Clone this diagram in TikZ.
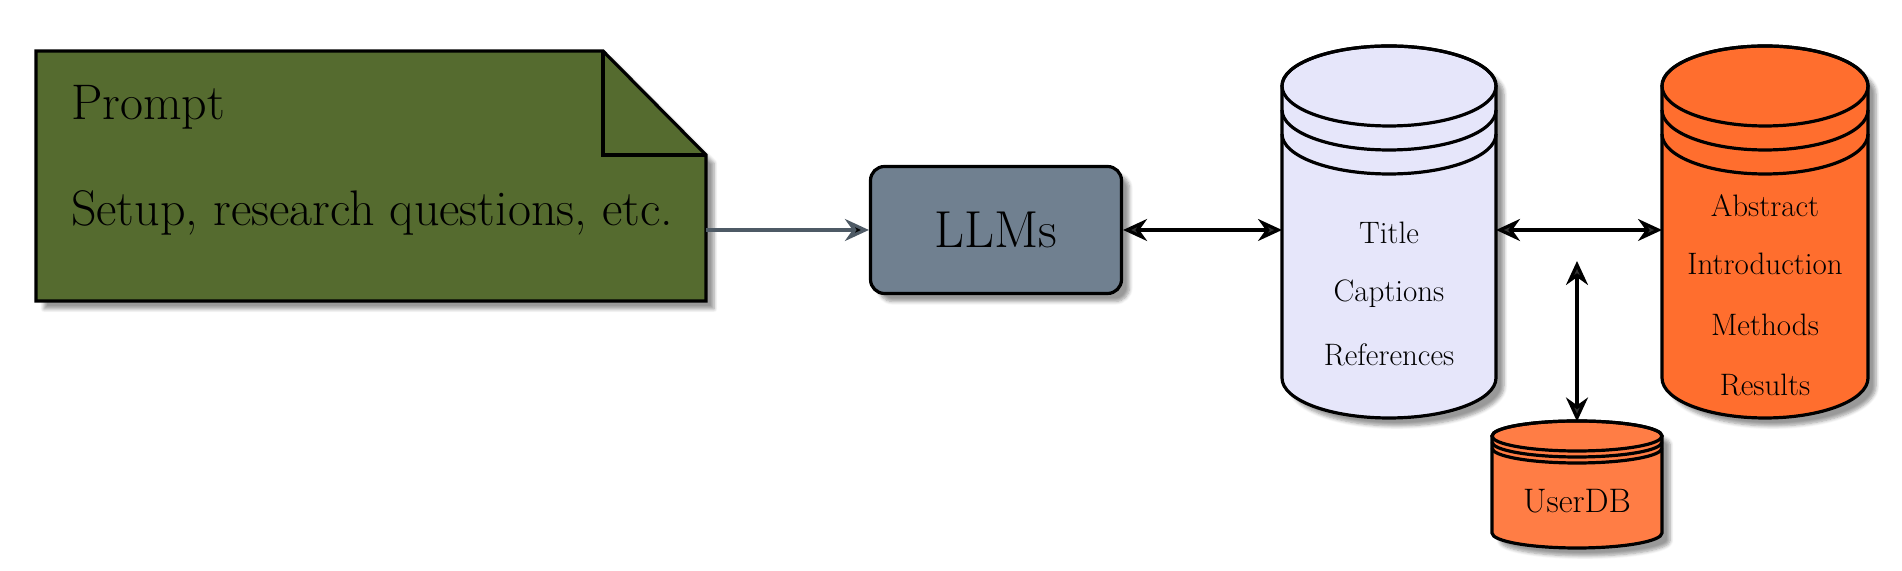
\documentclass[tikz,border=0pt]{standalone}
\usetikzlibrary{shadows.blur,arrows.meta}
\definecolor{noteg}{HTML}{556B2F}
\definecolor{slate}{HTML}{708090}
\definecolor{lav}{HTML}{E6E6FA}
\definecolor{org}{HTML}{FF6E2E}
\definecolor{org2}{HTML}{FF7D45}
\newcommand\mycyl[7]{% x1 x2 ytop ybot ry spacing fill
 \pgfmathsetmacro\rx{(#2-#1)/2}\pgfmathsetmacro\cx{(#1+#2)/2}
 \pgfmathsetmacro\yt{#3-#5}\pgfmathsetmacro\yb{#4+#5}
 \path[fill=#7,draw=black,line width=1.6pt,sh] (#1,\yt) -- (#1,\yb) arc[start angle=180,end angle=360,x radius=\rx,y radius=#5] -- (#2,\yt) arc[start angle=0,end angle=180,x radius=\rx,y radius=#5] -- cycle;
 \draw[line width=1.6pt] (\cx,\yt) ellipse[x radius=\rx,y radius=#5];
 \foreach \k in {1,2}{\draw[line width=1.6pt] (#1,\yt-\k*#6) arc[start angle=180,end angle=360,x radius=\rx,y radius=#5];}
}
\tikzset{x=0.5pt,y=0.5pt,
 sh/.style={blur shadow={shadow xshift=4pt,shadow yshift=-4pt,shadow blur steps=6,shadow opacity=40}},
 arr/.style={line width=1.6pt,{Stealth[length=12pt,width=11pt]}-{Stealth[length=12pt,width=11pt]}},
 box/.style={inner sep=0pt,outer sep=0pt},
 ctext/.style={font=\fontsize{15.5}{15.5}\selectfont,align=center}}
\begin{document}
\begin{tikzpicture}
\useasboundingbox (0,0) rectangle (1902,571);
% note
\path[fill=noteg,draw=black,line width=1.6pt,sh] (36,520) -- (603,520) -- (706,416) -- (706,270) -- (36,270) -- cycle;
\draw[line width=1.6pt] (603,520) -- (603,416) -- (706,416);
\node[box,minimum width=335pt,minimum height=125pt] (note) at (371,395) {};
\node[anchor=west,font=\fontsize{25}{25}\selectfont] (t1) at (64,464) {Prompt};
\node[anchor=west,font=\fontsize{25}{25}\selectfont] (t2) at (64,358) {Setup, research questions, etc.};
% LLMs
\node[draw=black,fill=slate,line width=1.6pt,rounded corners=7pt,minimum width=125.5pt,minimum height=63.5pt,sh,font=\fontsize{26}{26}\selectfont] (llm) at (996,341) {LLMs};
% cylinders
\mycyl{1282}{1496}{525}{153}{40}{24}{lav}
\mycyl{1662}{1868}{525}{153}{40}{24}{org}
\mycyl{1492}{1662}{150}{23}{15}{6}{org2}
\node[box,minimum width=107pt,minimum height=186pt] (title) at (1389,339) {};
\node[box,minimum width=103pt,minimum height=186pt] (paper) at (1765,339) {};
\node[box,minimum width=85pt,minimum height=63.5pt] (user) at (1577,86) {};
\node[ctext] (tt) at (1389,338) {Title};
\node[ctext] (tc) at (1389,277) {Captions};
\node[ctext] (tr) at (1389,216) {References};
\node[ctext] (pa) at (1765,365) {Abstract};
\node[ctext] (pi) at (1765,307) {Introduction};
\node[ctext] (pm) at (1765,246) {Methods};
\node[ctext] (pr) at (1765,186) {Results};
\node[ctext,font=\fontsize{17}{17}\selectfont] (ud) at (1577,70) {UserDB};
\coordinate (vt) at (1577,310);
% connectors
\draw[line width=1.6pt,draw=slate!70!black,-{Stealth[length=12pt,width=11pt,fill=black]}] (note.east |- llm) -- (llm.west);
\draw[arr] (llm.east) -- (title.west |- llm);
\draw[arr] (title.east |- llm) -- (paper.west |- llm);
\draw[arr] (vt) -- (user.north);
\end{tikzpicture}
\end{document}
